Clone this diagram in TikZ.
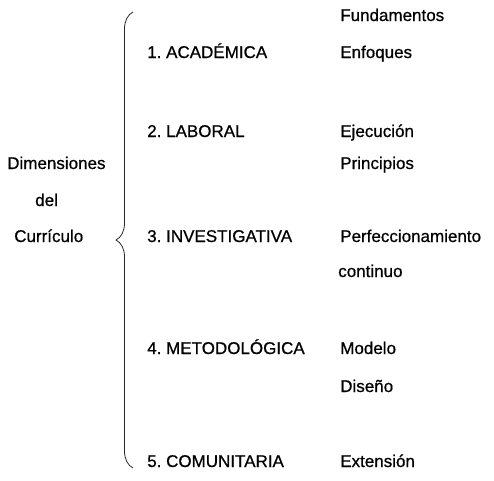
\documentclass[tikz,border=0pt]{standalone}
\usepackage{fontspec}
\setmainfont{Liberation Sans}[FakeBold=0.7]
\usetikzlibrary{decorations.pathreplacing}

\begin{document}
\frenchspacing
\begin{tikzpicture}[
    x=0.75pt,y=-0.75pt,
    any/.style={anchor=base west,inner sep=0pt,font=\fontsize{12.75pt}{15pt}\selectfont},
    dimension/.style={any},
    aspect/.style={any},
    bracket/.style={draw=black!85,line width=0.6pt,decorate,decoration={brace,amplitude=12.75pt}}
]
\useasboundingbox (0,0) rectangle (494,480);

% left title
\node[any] (dimensiones) at (7,169) {Dimensiones};
\node[any] (del) at (35,206) {del};
\node[any] (curriculo) at (14,242) {Currículo};

% brace
\coordinate (bracetop) at (133,12);
\coordinate (bracebot) at (133,468);
\draw[bracket] (bracebot) -- (bracetop);

% dimensions
\node[dimension] (academica) at (147,58) {1. ACADÉMICA};
\node[dimension] (laboral) at (147,137) {2. LABORAL};
\node[dimension] (investigativa) at (147,242) {3. INVESTIGATIVA};
\node[dimension] (metodologica) at (147,354) {4. METODOLÓGICA};
\node[dimension] (comunitaria) at (147,467) {5. COMUNITARIA};

% aspects
\node[aspect] (fundamentos) at (340,21) {Fundamentos};
\node[aspect] (enfoques) at (340,58) {Enfoques};
\node[aspect] (ejecucion) at (340,137) {Ejecución};
\node[aspect] (principios) at (340,169) {Principios};
\node[aspect] (perfeccionamiento) at (340,242) {Perfeccionamiento};
\node[aspect] (continuo) at (338,277) {continuo};
\node[aspect] (modelo) at (340,354) {Modelo};
\node[aspect] (diseno) at (340,392) {Diseño};
\node[aspect] (extension) at (340,467) {Extensión};
\end{tikzpicture}
\end{document}
